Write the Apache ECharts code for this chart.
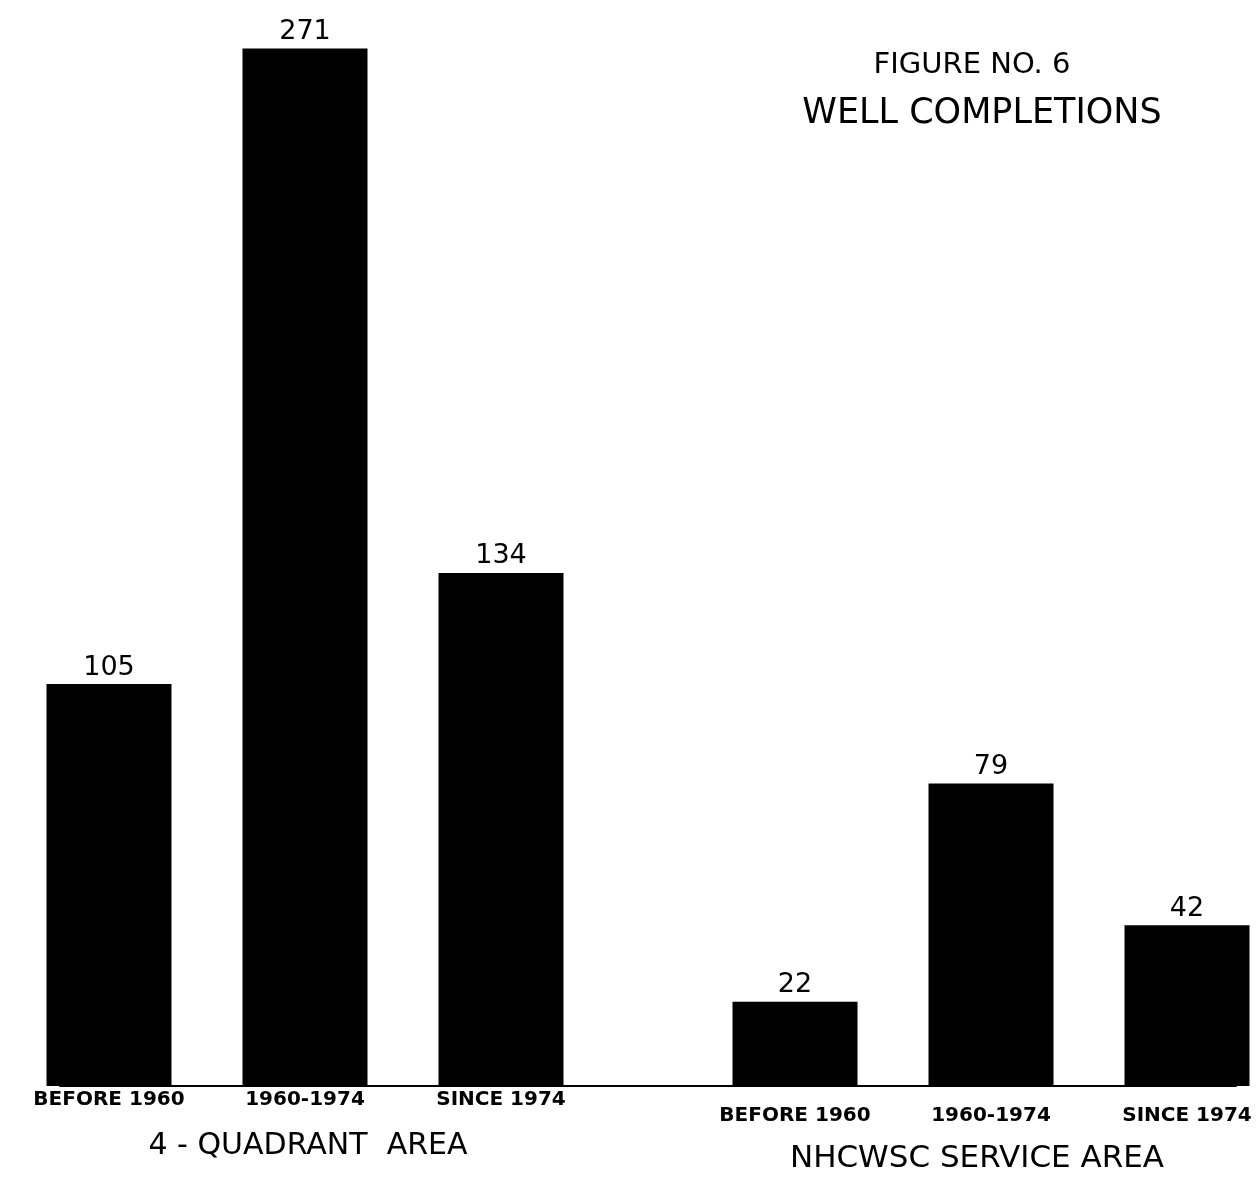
<!DOCTYPE html>
<html>
<head>
<meta charset="utf-8">
<script src="https://cdn.jsdelivr.net/npm/echarts@6/dist/echarts.min.js"></script>
<style>
html,body{margin:0;padding:0;background:#fff;}
#chart{width:1257px;height:1180px;}
</style>
</head>
<body>
<div id="chart"></div>
<script>
// ---- data ----
const periods = ['BEFORE 1960', '1960-1974', 'SINCE 1974'];
const groupNames = ['4 - QUADRANT  AREA', 'NHCWSC SERVICE AREA'];
const quadrantValues = [105, 271, 134];
const nhcwscValues = [22, 79, 42];
const titleLine1 = 'FIGURE NO. 6';
const titleLine2 = 'WELL COMPLETIONS';

// ---- build slot layout (half-width slots; groups separated by a gap) ----
const slots = [];
const values = [];
function pushGroup(prefix, vals) {
  periods.forEach((p, i) => {
    if (i > 0) { slots.push(prefix + 'pad' + i); values.push('-'); }
    slots.push(prefix + '|' + p); values.push(vals[i]);
  });
}
pushGroup('Q', quadrantValues);
slots.push('gapA'); values.push('-');
slots.push('gapB'); values.push('-');
pushGroup('N', nhcwscValues);

const font = 'DejaVu Sans';
const chart = echarts.init(document.getElementById('chart'));
chart.setOption({
  backgroundColor: '#ffffff',
  animation: false,
  grid: { left: 60, right: 21, top: 14, bottom: 94 },
  xAxis: {
    type: 'category',
    data: slots.map(s => {
      if (s.indexOf('|') < 0) return { value: s };
      const isRight = s.charAt(0) === 'N';
      return { value: s, textStyle: { padding: [isRight ? 16 : 0, 0, 0, 0] } };
    }),
    axisLine: { show: true, lineStyle: { color: '#000', width: 2 } },
    axisTick: { show: false },
    splitLine: { show: false },
    axisLabel: {
      interval: 0,
      margin: 4,
      color: '#000',
      fontFamily: font,
      fontWeight: 'bold',
      fontSize: 20,
      formatter: v => (v.indexOf('|') >= 0 ? v.split('|')[1] : '')
    }
  },
  yAxis: { type: 'value', min: 0, max: 280, show: false },
  series: [{
    type: 'bar',
    data: values,
    barWidth: 125,
    clip: false,
    itemStyle: { color: '#000' },
    label: {
      show: true,
      position: 'top',
      distance: 3,
      color: '#000',
      fontFamily: font,
      fontSize: 27
    }
  }],
  graphic: [
    { type: 'text', x: 972, y: 51,
      style: { text: titleLine1, fill: '#000', font: '29px "DejaVu Sans"', textAlign: 'center', textVerticalAlign: 'top' } },
    { type: 'text', x: 982, y: 96,
      style: { text: titleLine2, fill: '#000', font: '35px "DejaVu Sans"', textAlign: 'center', textVerticalAlign: 'top' } },
    { type: 'text', x: 308, y: 1131,
      style: { text: groupNames[0], fill: '#000', font: '30px "DejaVu Sans"', textAlign: 'center', textVerticalAlign: 'top' } },
    { type: 'text', x: 977, y: 1143,
      style: { text: groupNames[1], fill: '#000', font: '31px "DejaVu Sans"', textAlign: 'center', textVerticalAlign: 'top' } }
  ]
});
</script>
</body>
</html>
